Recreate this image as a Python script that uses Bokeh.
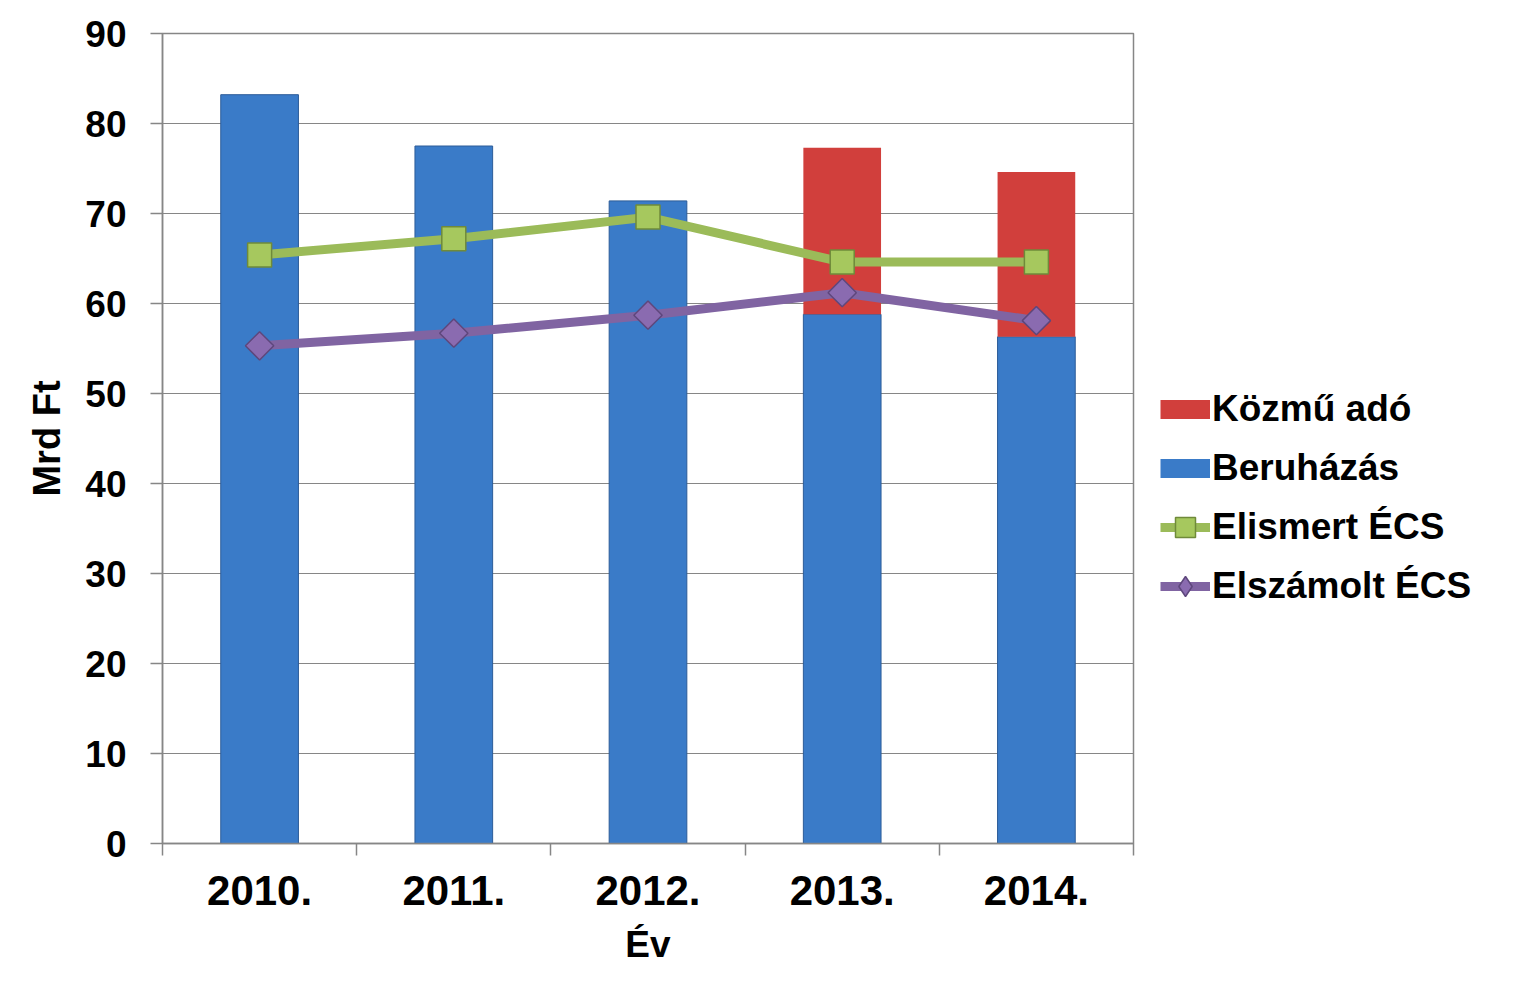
from bokeh.plotting import figure
from bokeh.models import ColumnDataSource, Legend, LegendItem, FixedTicker, Range1d
from bokeh.embed import file_html
from bokeh.resources import INLINE

years = ["2010.", "2011.", "2012.", "2013.", "2014."]
beruhazas = [83.2, 77.5, 71.4, 58.8, 56.3]
kozmu_ado = [0.0, 0.0, 0.0, 18.5, 18.3]
elismert = [65.4, 67.2, 69.6, 64.6, 64.6]
elszamolt = [55.3, 56.7, 58.7, 61.2, 58.1]
y_ticks = [0, 10, 20, 30, 40, 50, 60, 70, 80, 90]

FONT = "Liberation Sans"
GRID = "#868686"
BLUE = "#3A7BC8"
RED = "#D13F3C"

n = len(years)
x_pos = [i + 0.5 for i in range(n)]          # category centres
x_bounds = [float(i) for i in range(n + 1)]   # category boundaries

src = ColumnDataSource(dict(x=x_pos, years=years, beruhazas=beruhazas, kozmu_ado=kozmu_ado,
                            elismert=elismert, elszamolt=elszamolt))

p = figure(x_range=Range1d(0, n), y_range=Range1d(0, 90), output_backend="svg",
           toolbar_location=None, width=1505, height=975,
           frame_width=971, frame_height=810,
           min_border_left=162, min_border_top=33, min_border_right=370, min_border_bottom=130)

p.background_fill_color = "white"
p.outline_line_color = GRID
p.outline_line_width = 1.5

bars = p.vbar_stack(["beruhazas", "kozmu_ado"], x="x", width=0.4, source=src,
                    fill_color=[BLUE, RED], line_color=["#2C5C98", None],
                    line_width=1)

# legend swatches for the bar series: one-point paths (nothing is stroked in the plot)
tops = [b + k for b, k in zip(beruhazas, kozmu_ado)]
sw_src = ColumnDataSource(dict(xs=[[x] for x in x_pos], ys=[[t] for t in tops]))
sw_red = p.multi_line("xs", "ys", source=sw_src, line_color=RED, line_width=19, line_cap="butt")
sw_blue = p.multi_line("xs", "ys", source=sw_src, line_color=BLUE, line_width=19, line_cap="butt")

gl = p.line("x", "elismert", source=src, line_color="#9BBB59", line_width=9)
gm = p.scatter("x", "elismert", source=src, marker="square", size=24,
               fill_color="#A6C85E", line_color="#6F8A3A", line_width=1.5)
pl = p.line("x", "elszamolt", source=src, line_color="#8064A2", line_width=9)
# diamond used for the legend; it lies fully under the rotated squares drawn next
sw_dia = p.scatter("x", "elszamolt", source=src, marker="diamond", size=20,
                   fill_color="#8A6BB0", line_color="#5E477C", line_width=1.5)
pm = p.scatter("x", "elszamolt", source=src, marker="square", angle=0.785398, size=20,
               fill_color="#8A6BB0", line_color="#5E477C", line_width=1.5)

# axes
p.yaxis.ticker = FixedTicker(ticks=y_ticks)
p.xaxis.ticker = FixedTicker(ticks=x_pos, minor_ticks=x_bounds)
p.xaxis.major_label_overrides = {x: y for x, y in zip(x_pos, years)}
p.yaxis.axis_label = "Mrd Ft"
p.xaxis.axis_label = "Év"
for ax in (p.xaxis[0], p.yaxis[0]):
    ax.axis_line_color = GRID
    ax.axis_line_width = 1.5
    ax.major_tick_line_color = GRID
    ax.major_tick_line_width = 1.5
    ax.major_tick_in = 0
    ax.major_tick_out = 12
    ax.minor_tick_line_color = None
    ax.major_label_text_font = FONT
    ax.major_label_text_font_style = "bold"
    ax.major_label_text_color = "black"
    ax.axis_label_text_font = FONT
    ax.axis_label_text_font_style = "bold"
    ax.axis_label_text_color = "black"

p.xaxis.major_tick_line_color = None
p.xaxis.minor_tick_line_color = GRID
p.xaxis.minor_tick_line_width = 1.5
p.xaxis.minor_tick_in = 0
p.xaxis.minor_tick_out = 12

p.yaxis.major_label_text_font_size = "37px"
p.yaxis.major_label_standoff = 24
p.yaxis.axis_label_text_font_size = "38px"
p.yaxis.axis_label_standoff = 14

p.xaxis.major_label_text_font_size = "42px"
p.xaxis.major_label_standoff = 20
p.xaxis.axis_label_text_font_size = "37px"
p.xaxis.axis_label_standoff = 16

p.xgrid.grid_line_color = None
p.ygrid.grid_line_color = GRID
p.ygrid.grid_line_width = 1.2

legend = Legend(items=[
    LegendItem(label="Közmű adó", renderers=[sw_red]),
    LegendItem(label="Beruházás", renderers=[sw_blue]),
    LegendItem(label="Elismert ÉCS", renderers=[gl, gm]),
    LegendItem(label="Elszámolt ÉCS", renderers=[pl, sw_dia]),
], location=(27, 228))
legend.label_text_font = FONT
legend.label_text_font_style = "bold"
legend.label_text_font_size = "37px"
legend.label_text_color = "black"
legend.padding = 0
legend.margin = 0
legend.border_line_color = None
legend.background_fill_alpha = 0
legend.glyph_width = 50
legend.glyph_height = 58
legend.label_standoff = 2
legend.spacing = 1
p.add_layout(legend, "right")

open("out.html", "w").write(file_html(p, INLINE))
